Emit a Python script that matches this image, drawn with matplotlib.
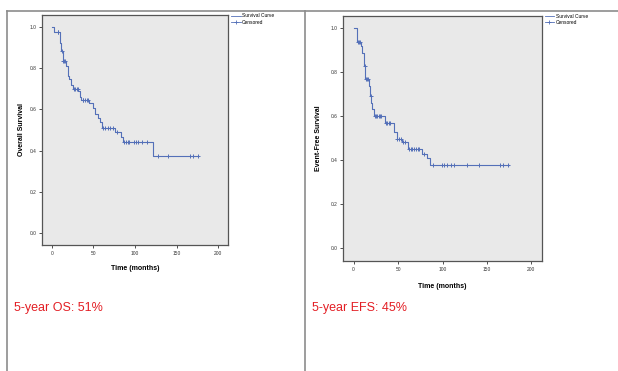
import matplotlib
matplotlib.use("Agg")
import matplotlib.pyplot as plt
from matplotlib.lines import Line2D
import numpy as np

# Overall survival: step times (months) and survival after each step
os_times = [0, 3, 10, 11, 13, 17, 19, 21, 23.5, 26, 32, 34, 35.5, 45, 49, 52, 55, 58, 60.4, 76, 83, 85, 121]
os_surv = [1.0, 0.978, 0.92, 0.885, 0.835, 0.81, 0.76, 0.748, 0.718, 0.70, 0.69, 0.662, 0.646, 0.63, 0.605,
           0.58, 0.557, 0.539, 0.511, 0.489, 0.468, 0.44, 0.375]
os_censor = [7, 8, 12.4, 13.5, 14.5, 15.5, 27, 28.5, 30, 31, 37, 38, 40, 42, 43, 61, 64, 67, 70, 73,
             78, 87, 89, 91, 93, 99, 101, 103, 108, 114, 127, 140, 166, 169, 175]

# Event-free survival
efs_times = [0, 3.4, 4.2, 8, 9.7, 12, 13, 17.5, 18.3, 19.6, 21, 23, 35, 45.5, 48.5, 54, 61, 77, 82.8, 85.8]
efs_surv = [1.0, 0.957, 0.94, 0.92, 0.889, 0.828, 0.768, 0.74, 0.692, 0.662, 0.632, 0.60, 0.572, 0.53,
            0.496, 0.484, 0.451, 0.43, 0.409, 0.38]
efs_censor = [5, 6, 7, 12.5, 14, 15, 16, 19, 24, 25, 26, 28, 30, 31, 36, 38, 40, 41, 49, 51, 53, 56, 58,
              62, 64, 66, 68, 70, 72, 74, 79, 89, 99.6, 102, 105, 109, 112.6, 127.5, 140.6, 165, 168.6, 174.2]

os_end = 175
efs_end = 175

curve_color = "#5470b8"
bg = "#e9e9e9"


def surv_at(times, surv, t):
    idx = np.searchsorted(times, t, side="right") - 1
    return np.array(surv)[idx]


def km_panel(ax, times, surv, censor, end, ylabel):
    x = list(times) + [end]
    y = list(surv) + [surv[-1]]
    ax.step(x, y, where="post", color=curve_color, lw=0.8)
    ax.plot(censor, surv_at(times, surv, np.array(censor)), "+", color=curve_color, ms=3.5, mew=0.7)
    ax.set_facecolor(bg)
    ax.set_xlim(-11.6, 211.6)
    ax.set_ylim(-0.057, 1.058)
    ax.set_xticks([0, 50, 100, 150, 200])
    ax.set_yticks([0.0, 0.2, 0.4, 0.6, 0.8, 1.0])
    ax.set_yticklabels(["0.0", "0.2", "0.4", "0.6", "0.8", "1.0"])
    ax.tick_params(labelsize=3.5, length=2.5, width=0.6, pad=1.5, colors="#333333")
    for s in ax.spines.values():
        s.set_color("#555555")
        s.set_linewidth(0.9)
    ax.set_xlabel("Time (months)", fontsize=5, fontweight="bold")
    ax.set_ylabel(ylabel, fontsize=5, fontweight="bold")
    handles = [Line2D([], [], color=curve_color, lw=0.6, drawstyle="steps-post"),
               Line2D([], [], color=curve_color, lw=0.6, marker="+", ms=3.5, mew=0.6)]
    ax.legend(handles, ["Survival Curve", "Censored"], loc="upper left", bbox_to_anchor=(1.0, 1.02),
              frameon=False, fontsize=3.5, handlelength=2.0, handletextpad=0.3, labelspacing=0.3,
              borderaxespad=0.2)


fig = plt.figure(figsize=(6.18, 3.71), dpi=100)
plt.rcParams["font.family"] = ["Liberation Sans", "DejaVu Sans"]

ax1 = fig.add_axes([42 / 618, 1 - 245 / 371, 186 / 618, 230 / 371])
km_panel(ax1, os_times, os_surv, os_censor, os_end, "Overall Survival")
ax1.yaxis.set_label_coords(-0.091, 0.5)
ax1.xaxis.set_label_coords(0.5, -0.087)

ax2 = fig.add_axes([343.3 / 618, 1 - 261 / 371, 198.4 / 618, 245.3 / 371])
km_panel(ax2, efs_times, efs_surv, efs_censor, efs_end, "Event-Free Survival")
ax2.yaxis.set_label_coords(-0.107, 0.5)
ax2.xaxis.set_label_coords(0.5, -0.088)

# slide panel borders
border = "#8c8c8c"
fig.add_artist(Line2D([7 / 618, 1], [1 - 11 / 371] * 2, color=border, lw=1.2, transform=fig.transFigure))
for xp in [7, 305]:
    fig.add_artist(Line2D([xp / 618] * 2, [0, 1 - 11 / 371], color=border, lw=1.2, transform=fig.transFigure))

fig.text(14 / 618, 1 - 308 / 371, "5-year OS: 51%", color="#e31e24", fontsize=9, va="center")
fig.text(312 / 618, 1 - 308 / 371, "5-year EFS: 45%", color="#e31e24", fontsize=9, va="center")

fig.savefig("out.png", dpi=100)
